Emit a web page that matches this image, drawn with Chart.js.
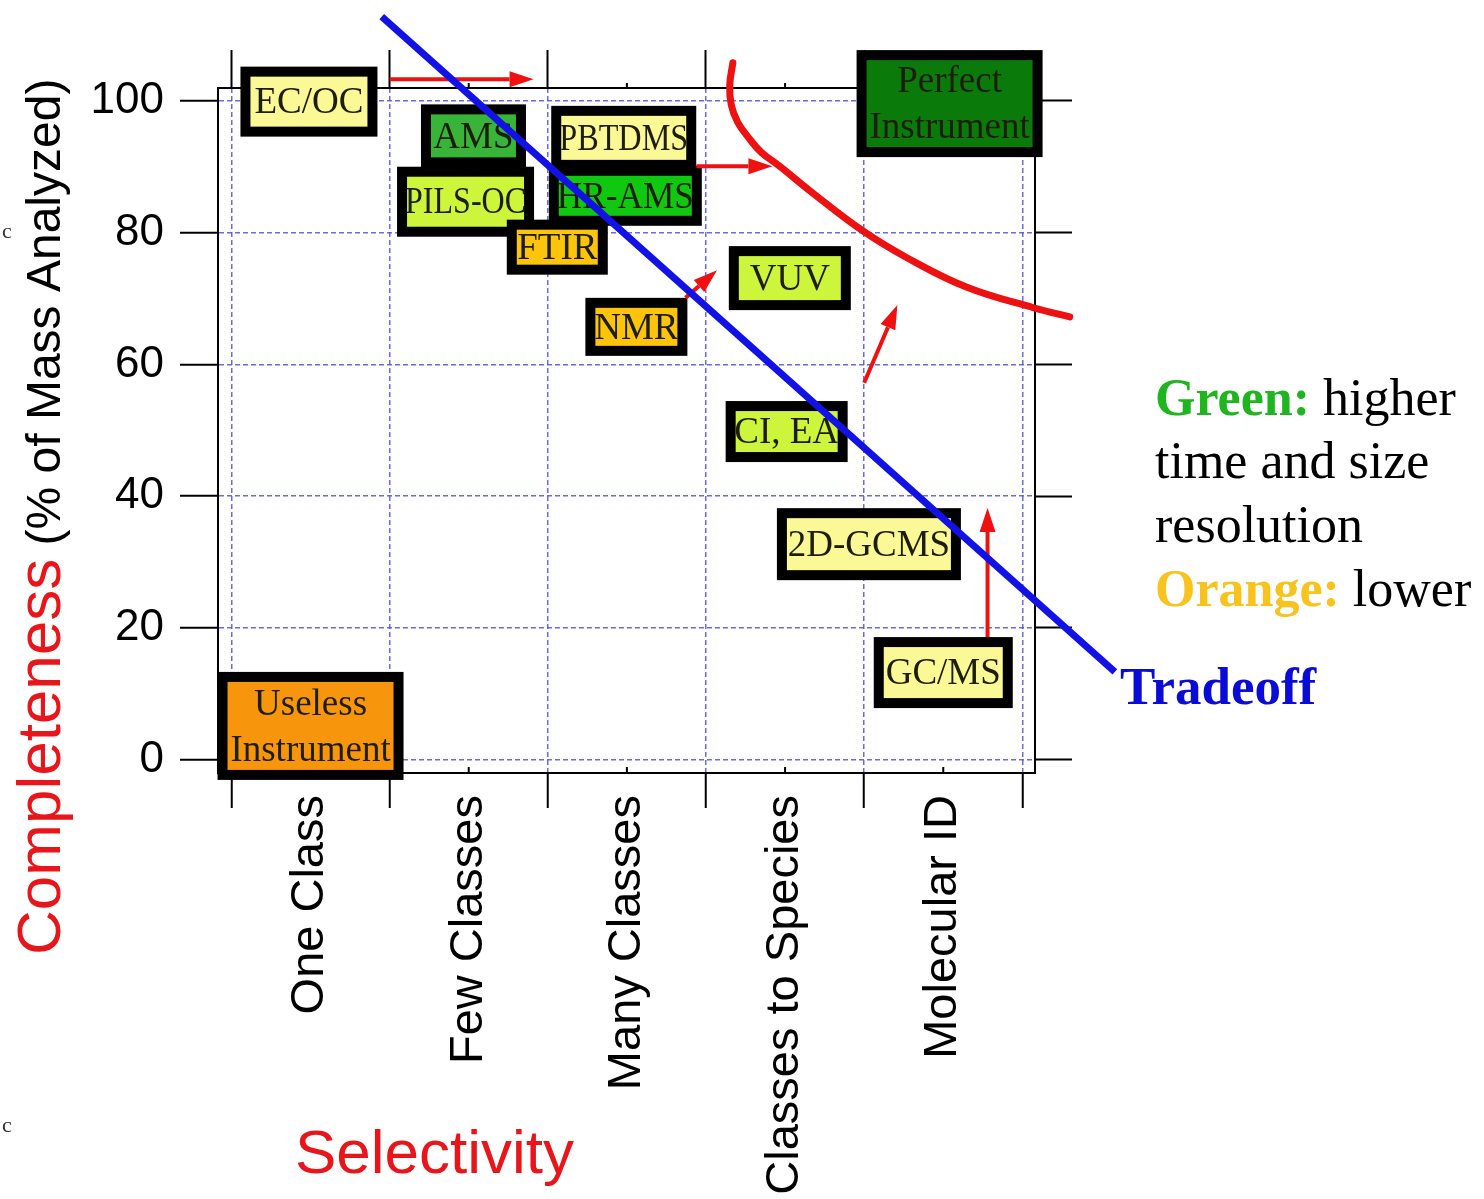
<!DOCTYPE html>
<html>
<head>
<meta charset="utf-8">
<script src="https://cdn.jsdelivr.net/npm/chart.js@4.4.0/dist/chart.umd.min.js"></script>
<style>
    html, body { margin: 0; padding: 0; background: #fff; }
    #wrap { width: 1484px; height: 1199px; position: relative; }
</style>
</head>
<body>
<div id="wrap"><canvas id="mainChart"></canvas></div>
<script>
// Selectivity categories (x) and completeness ticks (y)
const selectivityLabels = ["One Class", "Few Classes", "Many Classes", "Classes to Species", "Molecular ID"];
const completenessTicks = [0, 20, 40, 60, 80, 100];

// Instruments placed on the selectivity / completeness plane
const instrumentNames = ["EC/OC", "AMS", "PILS-OC", "PBTDMS", "HR-AMS", "FTIR", "NMR", "VUV", "CI, EA", "2D-GCMS", "GC/MS", "Useless\nInstrument", "Perfect\nInstrument"];
const instrumentX = [0.49, 1.53, 1.48, 2.48, 2.49, 2.06, 2.56, 3.53, 3.51, 4.03, 4.50, 0.50, 4.54];
const instrumentY = [99.9, 94.7, 84.7, 94.4, 85.6, 77.8, 65.7, 73.1, 49.8, 32.7, 13.2, 5.1, 99.6];

// Red frontier curve and blue tradeoff line
const frontierX = [3.17, 3.15, 3.16, 3.20, 3.27, 3.35, 3.47, 3.66, 3.99, 4.27, 4.65, 5.07, 5.30];
const frontierY = [105.8, 102.4, 99.4, 96.8, 94.4, 92.2, 90.0, 86.3, 80.3, 76.2, 71.7, 68.6, 67.2];
const tradeoffX = [0.95, 5.585];
const tradeoffY = [112.8, 13.3];

// Improvement arrows (from -> to)
const arrowFromX = [1.00, 2.94, 2.87, 4.00, 4.78];
const arrowFromY = [103.3, 90.1, 70.1, 57.2, 18.6];
const arrowToX = [1.91, 3.42, 3.07, 4.21, 4.78];
const arrowToY = [103.3, 90.1, 74.3, 69.0, 38.2];

// Box looks (outer size in px, fill)
const boxStyle = {
    "EC/OC": { w: 137, h: 70, fill: "#fbf995" },
    "AMS": { w: 105, h: 63, fill: "#38b538" },
    "PILS-OC": { w: 137, h: 70, fill: "#ccf53c" },
    "PBTDMS": { w: 145, h: 64, fill: "#fbf995" },
    "HR-AMS": { w: 153, h: 60, fill: "#10c810" },
    "FTIR": { w: 101, h: 55, fill: "#fcc50c" },
    "NMR": { w: 102, h: 58, fill: "#fcc50c" },
    "VUV": { w: 122, h: 64, fill: "#ccf53c" },
    "CI, EA": { w: 122, h: 61, fill: "#ccf53c" },
    "2D-GCMS": { w: 184, h: 72, fill: "#fbf995" },
    "GC/MS": { w: 139, h: 71, fill: "#fbf995" },
    "Useless\nInstrument": { w: 186, h: 108, fill: "#f7960c" },
    "Perfect\nInstrument": { w: 186, h: 107, fill: "#0a7a0a" }
};

const gridBlue = "rgba(80, 80, 225, 0.85)";
const serif = '"Liberation Serif", "Times New Roman", serif';
const sans = '"Liberation Sans", Arial, sans-serif';

const yMin = -2.05, yMax = 101.97;
const xMin = -0.085, xMax = 5.08;

// Boxes and arrows, drawn under the data lines
const boxesPlugin = {
    id: "boxes",
    beforeDatasetsDraw(chart) {
        const { ctx, scales: { x, y } } = chart;
        const border = 10;
        ctx.save();

        // small minor ticks at category centres on the frame
        ctx.strokeStyle = "#000";
        ctx.lineWidth = 2;
        selectivityLabels.forEach((lab, i) => {
            const px = x.getPixelForValue(i + 0.5);
            ctx.beginPath();
            ctx.moveTo(px, chart.chartArea.bottom);
            ctx.lineTo(px, chart.chartArea.bottom - 6);
            ctx.moveTo(px, chart.chartArea.top);
            ctx.lineTo(px, chart.chartArea.top - 5);
            ctx.stroke();
        });

        instrumentNames.forEach((name, i) => {
            const st = boxStyle[name];
            const cx = x.getPixelForValue(instrumentX[i]);
            const cy = y.getPixelForValue(instrumentY[i]);
            const left = cx - st.w / 2, top = cy - st.h / 2;
            ctx.fillStyle = "#000";
            ctx.fillRect(left, top, st.w, st.h);
            const iw = st.w - 2 * border, ih = st.h - 2 * border;
            ctx.fillStyle = st.fill;
            ctx.fillRect(left + border, top + border, iw, ih);

            ctx.save();
            ctx.beginPath();
            ctx.rect(left + border, top + border, iw, ih);
            ctx.clip();
            ctx.font = "37px " + serif;
            ctx.fillStyle = "#1e1e08";
            ctx.textAlign = "center";
            ctx.textBaseline = "middle";
            const lines = name.split("\n");
            const lh = 46;
            lines.forEach((line, k) => {
                const ly = cy + (k - (lines.length - 1) / 2) * lh + 2;
                ctx.fillText(line, cx, ly, iw + 4);
            });
            ctx.restore();
        });

        // arrows
        ctx.strokeStyle = "#f01010";
        ctx.fillStyle = "#f01010";
        ctx.lineWidth = 4;
        arrowFromX.forEach((fx, i) => {
            const x1 = x.getPixelForValue(fx), y1 = y.getPixelForValue(arrowFromY[i]);
            const x2 = x.getPixelForValue(arrowToX[i]), y2 = y.getPixelForValue(arrowToY[i]);
            const ang = Math.atan2(y2 - y1, x2 - x1);
            const hl = 24, hw = 8;
            const bx = x2 - hl * Math.cos(ang), by = y2 - hl * Math.sin(ang);
            ctx.beginPath();
            ctx.moveTo(x1, y1);
            ctx.lineTo(bx, by);
            ctx.stroke();
            ctx.beginPath();
            ctx.moveTo(x2, y2);
            ctx.lineTo(bx - hw * Math.sin(ang), by + hw * Math.cos(ang));
            ctx.lineTo(bx + hw * Math.sin(ang), by - hw * Math.cos(ang));
            ctx.closePath();
            ctx.fill();
        });
        ctx.restore();
    }
};

// Titles and the side notes
const textPlugin = {
    id: "slideText",
    afterDraw(chart) {
        const ctx = chart.ctx;
        ctx.save();
        ctx.textAlign = "left";
        ctx.textBaseline = "alphabetic";

        // y title, rotated
        ctx.save();
        ctx.translate(60, 955);
        ctx.rotate(-Math.PI / 2);
        ctx.font = "62px " + sans;
        ctx.fillStyle = "#e8161b";
        ctx.fillText("Completeness", 0, 0);
        const w = ctx.measureText("Completeness ").width;
        ctx.font = "48px " + sans;
        ctx.fillStyle = "#000";
        ctx.fillText("(% of Mass Analyzed)", w - 4, 0);
        ctx.restore();

        // x title
        ctx.font = "62px " + sans;
        ctx.fillStyle = "#e8161b";
        ctx.fillText("Selectivity", 295, 1173);

        // notes
        const nx = 1155;
        const part = (bold, color, rest, yy) => {
            ctx.font = "bold 52px " + serif;
            ctx.fillStyle = color;
            ctx.fillText(bold, nx, yy);
            const bw = ctx.measureText(bold).width;
            ctx.font = "52px " + serif;
            ctx.fillStyle = "#000";
            ctx.fillText(rest, nx + bw, yy);
        };
        part("Green:", "#1fb51f", " higher", 415);
        ctx.font = "52px " + serif;
        ctx.fillStyle = "#000";
        ctx.fillText("time and size", nx, 478);
        ctx.fillText("resolution", nx, 542);
        part("Orange:", "#f7c31c", " lower", 606);

        ctx.font = "bold 53px " + serif;
        ctx.fillStyle = "#0b0bd8";
        ctx.fillText("Tradeoff", 1120, 704);

        // stray slide characters
        ctx.font = "22px " + serif;
        ctx.fillStyle = "#333";
        ctx.fillText("c", 2, 238);
        ctx.fillText("c", 2, 1132);
        ctx.restore();
    }
};

const xTickValues = [];
for (let i = 0; i <= selectivityLabels.length; i++) {
    xTickValues.push(i);
    if (i < selectivityLabels.length) xTickValues.push(i + 0.5);
}
const boundaryTicks = xTickValues.filter(v => Number.isInteger(v));

const ctx = document.getElementById("mainChart").getContext("2d");
new Chart(ctx, {
    type: "scatter",
    data: {
        datasets: [
            {
                label: "Tradeoff",
                data: tradeoffX.map((v, i) => ({ x: v, y: tradeoffY[i] })),
                showLine: true,
                borderColor: "#1212e6",
                borderWidth: 7,
                pointRadius: 0,
                clip: false
            },
            {
                label: "Frontier",
                data: frontierX.map((v, i) => ({ x: v, y: frontierY[i] })),
                showLine: true,
                borderColor: "#ee1111",
                borderWidth: 7,
                borderCapStyle: "round",
                borderJoinStyle: "round",
                tension: 0.4,
                capBezierPoints: false,
                pointRadius: 0,
                clip: false
            }
        ]
    },
    options: {
        responsive: true,
        maintainAspectRatio: false,
        animation: false,
        layout: { padding: 0 },
        plugins: {
            legend: { display: false },
            tooltip: { enabled: false }
        },
        scales: {
            x: {
                type: "linear",
                position: "bottom",
                min: xMin,
                max: xMax,
                afterBuildTicks: s => { s.ticks = xTickValues.map(v => ({ value: v })); },
                afterFit: s => { s.height = 426; },
                grid: {
                    color: c => (c.tick && Number.isInteger(c.tick.value)) ? gridBlue : "rgba(0,0,0,0)",
                    lineWidth: 1.5,
                    tickColor: c => (c.tick && Number.isInteger(c.tick.value)) ? "#000" : "rgba(0,0,0,0)",
                    tickLength: 35,
                    tickWidth: 2
                },
                border: { color: "#000", width: 2, dash: [5, 3] },
                ticks: {
                    autoSkip: false,
                    maxRotation: 90,
                    minRotation: 90,
                    padding: -13,
                    color: "#000",
                    font: { family: sans, size: 47 },
                    callback: v => Number.isInteger(v) ? "" : selectivityLabels[Math.floor(v)]
                }
            },
            xTop: {
                type: "linear",
                position: "top",
                min: xMin,
                max: xMax,
                afterBuildTicks: s => { s.ticks = boundaryTicks.map(v => ({ value: v })); },
                afterFit: s => { s.height = 88; },
                grid: { drawOnChartArea: false, tickColor: "#000", tickLength: 38, tickWidth: 2 },
                border: { color: "#000", width: 2 },
                ticks: { display: false }
            },
            y: {
                type: "linear",
                position: "left",
                min: yMin,
                max: yMax,
                afterBuildTicks: s => { s.ticks = completenessTicks.map(v => ({ value: v })); },
                afterFit: s => { s.width = 218; },
                grid: {
                    color: gridBlue,
                    lineWidth: 1.5,
                    tickColor: "#000",
                    tickLength: 38,
                    tickWidth: 2
                },
                border: { color: "#000", width: 2, dash: [5, 3] },
                ticks: {
                    padding: 16,
                    color: "#000",
                    font: { family: sans, size: 44 },
                    callback: v => String(v)
                }
            },
            yRight: {
                type: "linear",
                position: "right",
                min: yMin,
                max: yMax,
                afterBuildTicks: s => { s.ticks = completenessTicks.map(v => ({ value: v })); },
                afterFit: s => { s.width = 449; },
                grid: { drawOnChartArea: false, tickColor: "#000", tickLength: 37, tickWidth: 2 },
                border: { color: "#000", width: 2 },
                ticks: { display: false }
            }
        }
    },
    plugins: [boxesPlugin, textPlugin]
});
</script>
</body>
</html>
